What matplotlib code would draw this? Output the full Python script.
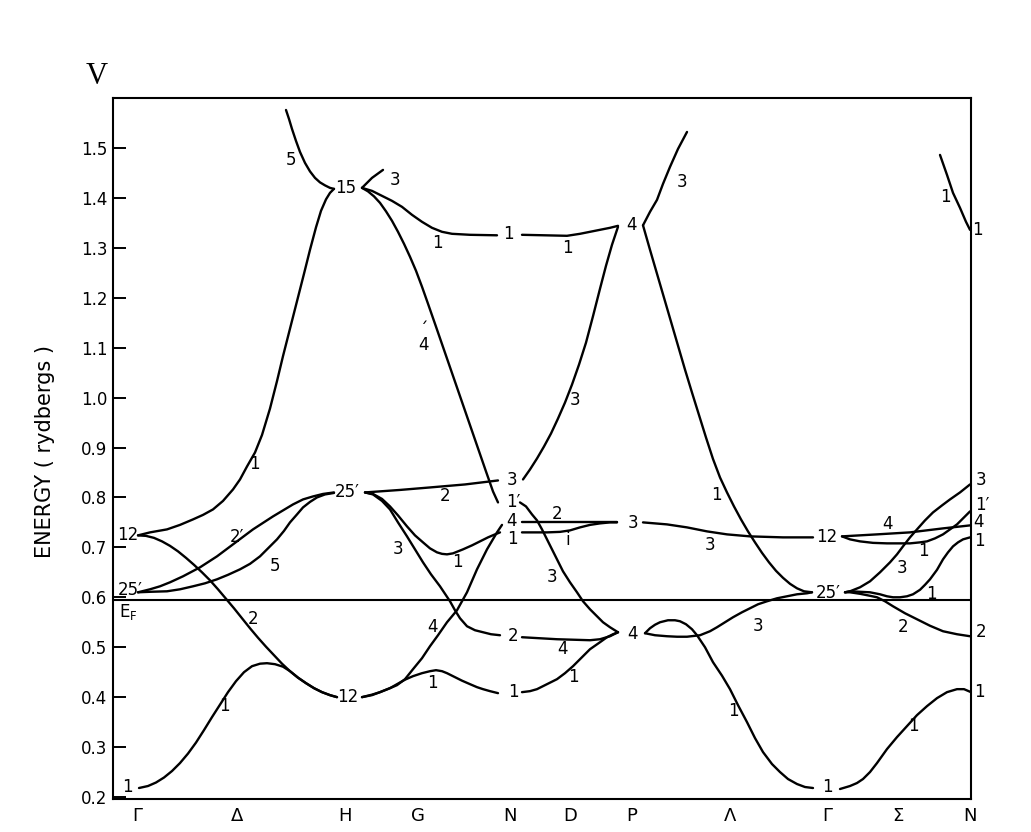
import matplotlib
matplotlib.use("Agg")
import matplotlib.pyplot as plt
import numpy as np

# ---------------- axis data ----------------
sym_labels = ["Γ", "Δ", "H", "G", "N", "D", "P", "Λ", "Γ", "Σ", "N"]
sym_pos = [137, 237, 345, 418, 510, 570, 632, 730, 827, 898, 970]
y_ticks = [0.2, 0.3, 0.4, 0.5, 0.6, 0.7, 0.8, 0.9, 1.0, 1.1, 1.2, 1.3, 1.4, 1.5]
fermi_energy = 0.594

# ---------------- bands: Γ – Δ – H ----------------
d1_low_k = [139, 148, 156, 164, 172, 180, 188, 196, 204, 212, 220, 228, 236, 244, 252, 260, 267, 275, 283, 290, 298, 306, 314, 322, 330, 337]
d1_low_e = [0.218, 0.222, 0.229, 0.239, 0.252, 0.268, 0.287, 0.309, 0.334, 0.36, 0.385, 0.41, 0.432, 0.45, 0.462, 0.467, 0.468, 0.466, 0.461, 0.452, 0.439, 0.428, 0.418, 0.41, 0.404, 0.40]
d2_k = [138, 146, 154, 162, 170, 178, 186, 194, 202, 210, 218, 226, 234, 242, 250, 258, 266, 274, 282, 290, 298, 306, 314, 322, 330, 337]
d2_e = [0.724, 0.723, 0.719, 0.712, 0.703, 0.692, 0.679, 0.665, 0.65, 0.634, 0.616, 0.597, 0.578, 0.558, 0.538, 0.519, 0.501, 0.484, 0.467, 0.452, 0.439, 0.428, 0.418, 0.41, 0.404, 0.40]
d1_up_k = [138, 150, 167, 180, 193, 203, 213, 223, 233, 240, 247, 255, 262, 270, 277, 283, 290, 297, 304, 310, 316, 321, 326, 330, 334]
d1_up_e = [0.724, 0.73, 0.736, 0.745, 0.756, 0.765, 0.776, 0.793, 0.816, 0.836, 0.862, 0.89, 0.925, 0.978, 1.033, 1.083, 1.138, 1.193, 1.248, 1.296, 1.341, 1.374, 1.397, 1.41, 1.418]
d5_top_k = [286, 289, 292, 296, 300, 305, 310, 315, 320, 325, 330, 334]
d5_top_e = [1.576, 1.558, 1.538, 1.514, 1.492, 1.47, 1.453, 1.44, 1.431, 1.425, 1.42, 1.418]
d2p_k = [138, 150, 160, 170, 183, 200, 217, 233, 253, 273, 293, 303, 313, 323, 334]
d2p_e = [0.61, 0.616, 0.622, 0.63, 0.642, 0.66, 0.682, 0.706, 0.736, 0.762, 0.786, 0.796, 0.802, 0.807, 0.81]
d5_k = [138, 150, 167, 180, 193, 205, 217, 228, 240, 250, 260, 268, 277, 284, 290, 297, 303, 310, 317, 325, 334]
d5_e = [0.61, 0.611, 0.612, 0.616, 0.622, 0.628, 0.636, 0.645, 0.656, 0.667, 0.682, 0.698, 0.716, 0.733, 0.75, 0.766, 0.78, 0.791, 0.8, 0.806, 0.809]

# ---------------- bands: H – G – N ----------------
g3_top_k = [362, 372, 383]
g3_top_e = [1.42, 1.44, 1.456]
g1_top_k = [362, 372, 382, 392, 402, 412, 422, 432, 442, 452, 470, 497]
g1_top_e = [1.42, 1.414, 1.404, 1.394, 1.382, 1.366, 1.352, 1.34, 1.332, 1.328, 1.326, 1.325]
g4p_k = [362, 368, 374, 380, 386, 392, 398, 404, 410, 416, 422, 428, 436, 446, 456, 466, 476, 486, 493, 498]
g4p_e = [1.42, 1.413, 1.403, 1.39, 1.373, 1.354, 1.332, 1.308, 1.282, 1.254, 1.222, 1.188, 1.142, 1.084, 1.026, 0.968, 0.91, 0.852, 0.812, 0.79]
g2_k = [365, 400, 430, 465, 498]
g2_e = [0.81, 0.815, 0.82, 0.826, 0.834]
g3_k = [365, 373, 382, 390, 398, 407, 415, 423, 431, 440, 445, 450, 455, 460, 467, 475, 483, 491, 500]
g3_e = [0.81, 0.806, 0.793, 0.776, 0.75, 0.722, 0.696, 0.67, 0.646, 0.622, 0.607, 0.592, 0.574, 0.558, 0.542, 0.534, 0.53, 0.526, 0.524]
g1_mid_k = [365, 373, 382, 390, 398, 407, 415, 423, 430, 437, 442, 447, 453, 463, 472, 480, 488, 495, 500]
g1_mid_e = [0.81, 0.807, 0.797, 0.782, 0.764, 0.742, 0.724, 0.71, 0.698, 0.69, 0.687, 0.686, 0.688, 0.696, 0.704, 0.712, 0.72, 0.726, 0.73]
g4_k = [362, 372, 380, 390, 397, 405, 413, 422, 430, 438, 447, 457, 467, 477, 487, 497, 502]
g4_e = [0.40, 0.404, 0.41, 0.418, 0.424, 0.436, 0.456, 0.478, 0.502, 0.524, 0.55, 0.574, 0.61, 0.656, 0.696, 0.73, 0.745]
g1_low_k = [362, 372, 380, 390, 397, 405, 413, 422, 430, 436, 442, 447, 453, 462, 470, 477, 483, 490, 498]
g1_low_e = [0.40, 0.405, 0.41, 0.418, 0.426, 0.435, 0.442, 0.448, 0.452, 0.454, 0.452, 0.448, 0.442, 0.433, 0.426, 0.42, 0.416, 0.412, 0.408]

# ---------------- bands: N – D – P ----------------
dd2_k = [522, 557, 590, 617]
dd2_e = [0.75, 0.75, 0.75, 0.75]
dd1_k = [522, 547, 560, 570, 580, 590, 600, 610, 617]
dd1_e = [0.73, 0.73, 0.731, 0.734, 0.74, 0.745, 0.748, 0.75, 0.75]
dd3_k = [520, 526, 532, 537, 542, 547, 557, 563, 570, 577, 583, 590, 597, 603, 610, 618]
dd3_e = [0.79, 0.782, 0.766, 0.754, 0.736, 0.716, 0.676, 0.652, 0.63, 0.61, 0.592, 0.576, 0.562, 0.55, 0.54, 0.53]
dd4_k = [522, 557, 590, 600, 610, 618]
dd4_e = [0.52, 0.516, 0.514, 0.516, 0.522, 0.53]
dd1_low_k = [522, 530, 537, 545, 557, 565, 573, 582, 590, 600, 607, 613, 618]
dd1_low_e = [0.41, 0.412, 0.416, 0.424, 0.436, 0.448, 0.462, 0.48, 0.496, 0.51, 0.52, 0.526, 0.53]
dd3_up_k = [523, 530, 537, 544, 551, 558, 565, 572, 579, 586, 593, 600, 606, 612, 618]
dd3_up_e = [0.836, 0.856, 0.878, 0.902, 0.928, 0.958, 0.99, 1.026, 1.066, 1.11, 1.163, 1.218, 1.264, 1.306, 1.342]
dd1_up_k = [522, 545, 567, 580, 590, 600, 610, 618]
dd1_up_e = [1.326, 1.325, 1.324, 1.328, 1.332, 1.336, 1.34, 1.344]

# ---------------- bands: P – Λ – Γ ----------------
l3_top_k = [643, 650, 657, 663, 670, 678, 687]
l3_top_e = [1.345, 1.372, 1.396, 1.428, 1.462, 1.498, 1.532]
l1_up_k = [643, 650, 657, 664, 671, 678, 685, 692, 699, 706, 713, 720, 727, 734, 741, 748, 755, 762, 769, 776, 783, 790, 797, 804, 812]
l1_up_e = [1.345, 1.296, 1.248, 1.2, 1.152, 1.104, 1.056, 1.01, 0.965, 0.92, 0.877, 0.84, 0.81, 0.782, 0.756, 0.732, 0.71, 0.689, 0.67, 0.653, 0.639, 0.627, 0.618, 0.612, 0.61]
l3_mid_k = [643, 667, 687, 707, 727, 750, 783, 813]
l3_mid_e = [0.75, 0.746, 0.74, 0.732, 0.726, 0.722, 0.72, 0.72]
l1_low_k = [645, 650, 655, 660, 668, 675, 680, 686, 692, 697, 705, 713, 722, 730, 738, 747, 755, 763, 772, 780, 788, 797, 805, 813]
l1_low_e = [0.528, 0.538, 0.545, 0.55, 0.554, 0.554, 0.552, 0.546, 0.536, 0.524, 0.5, 0.47, 0.443, 0.416, 0.384, 0.35, 0.318, 0.29, 0.266, 0.25, 0.236, 0.226, 0.22, 0.218]
l3_low_k = [645, 655, 667, 677, 687, 700, 710, 717, 725, 733, 742, 750, 758, 767, 777, 787, 797, 807, 812]
l3_low_e = [0.528, 0.524, 0.522, 0.521, 0.521, 0.524, 0.532, 0.54, 0.55, 0.56, 0.57, 0.578, 0.586, 0.592, 0.598, 0.602, 0.606, 0.608, 0.61]

# ---------------- bands: Γ – Σ – N ----------------
s4_k = [842, 877, 910, 943, 970]
s4_e = [0.722, 0.726, 0.73, 0.738, 0.744]
s1_mid_k = [842, 850, 860, 873, 887, 900, 910, 920, 927, 935, 943, 950, 957, 963, 970]
s1_mid_e = [0.722, 0.716, 0.712, 0.709, 0.708, 0.708, 0.708, 0.71, 0.712, 0.718, 0.726, 0.736, 0.746, 0.758, 0.772]
s3_k = [845, 850, 860, 870, 880, 890, 897, 903, 910, 917, 925, 933, 942, 950, 960, 970]
s3_e = [0.61, 0.612, 0.62, 0.632, 0.65, 0.67, 0.686, 0.702, 0.72, 0.736, 0.754, 0.77, 0.784, 0.796, 0.81, 0.826]
s1_lm_k = [845, 850, 860, 870, 880, 887, 893, 900, 907, 913, 920, 925, 930, 937, 943, 948, 953, 958, 963, 970]
s1_lm_e = [0.61, 0.612, 0.611, 0.61, 0.606, 0.602, 0.6, 0.6, 0.602, 0.606, 0.615, 0.625, 0.636, 0.655, 0.676, 0.69, 0.702, 0.71, 0.716, 0.72]
s2_k = [845, 850, 860, 870, 877, 885, 893, 905, 917, 930, 943, 957, 970]
s2_e = [0.61, 0.61, 0.607, 0.603, 0.6, 0.592, 0.582, 0.568, 0.556, 0.543, 0.532, 0.526, 0.522]
s1_low_k = [840, 850, 857, 863, 870, 877, 887, 897, 907, 917, 927, 937, 947, 957, 964, 971]
s1_low_e = [0.216, 0.222, 0.228, 0.236, 0.25, 0.268, 0.296, 0.32, 0.342, 0.364, 0.382, 0.398, 0.41, 0.416, 0.416, 0.41]
s1_top_k = [940, 947, 953, 960, 966, 970]
s1_top_e = [1.486, 1.446, 1.41, 1.38, 1.352, 1.336]

# ---------------- representation labels (text, k, E) ----------------
point_labels = [
    ("12", 128, 0.724), ("25′", 130, 0.614), ("1", 127, 0.22),
    ("15", 346, 1.42), ("25′", 347, 0.81), ("12", 348, 0.40),
    ("3", 512, 0.834), ("1′", 513, 0.79), ("4", 512, 0.752), ("1", 512, 0.716),
    ("2", 513, 0.522), ("1", 513, 0.41), ("1", 508, 1.328),
    ("4", 632, 1.346), ("3", 633, 0.748), ("4", 633, 0.527),
    ("12", 827, 0.72), ("25′", 828, 0.608), ("1", 827, 0.22),
    ("3", 981, 0.834), ("1′", 982, 0.785), ("4", 979, 0.75), ("1", 979, 0.713),
    ("2", 981, 0.53), ("1", 979, 0.41), ("1", 977, 1.336),
]
band_labels = [
    ("5", 291, 1.476), ("1", 254, 0.866), ("2′", 237, 0.72), ("5", 275, 0.662),
    ("2", 253, 0.556), ("1", 224, 0.382),
    ("3", 395, 1.436), ("1", 437, 1.31), ("2", 445, 0.802),
    ("3", 398, 0.696), ("1", 457, 0.67), ("4", 433, 0.54), ("1", 432, 0.428),
    ("2", 557, 0.766), ("i", 568, 0.714), ("3", 552, 0.64), ("4", 563, 0.496),
    ("1", 573, 0.44), ("3", 575, 0.996), ("1", 567, 1.3),
    ("3", 682, 1.432), ("1", 716, 0.804), ("3", 710, 0.704), ("3", 758, 0.542),
    ("1", 733, 0.372),
    ("4", 888, 0.746), ("1", 923, 0.692), ("3", 902, 0.658), ("1", 931, 0.606),
    ("2", 903, 0.54), ("1", 913, 0.342), ("1", 945, 1.402),
]
accent_label = ("ˊ\n4", 424, 1.12)

bands = [
    (d1_low_k, d1_low_e), (d2_k, d2_e), (d1_up_k, d1_up_e), (d5_top_k, d5_top_e),
    (d2p_k, d2p_e), (d5_k, d5_e),
    (g3_top_k, g3_top_e), (g1_top_k, g1_top_e), (g4p_k, g4p_e), (g2_k, g2_e),
    (g3_k, g3_e), (g1_mid_k, g1_mid_e), (g4_k, g4_e), (g1_low_k, g1_low_e),
    (dd2_k, dd2_e), (dd1_k, dd1_e), (dd3_k, dd3_e), (dd4_k, dd4_e),
    (dd1_low_k, dd1_low_e), (dd3_up_k, dd3_up_e), (dd1_up_k, dd1_up_e),
    (l3_top_k, l3_top_e), (l1_up_k, l1_up_e), (l3_mid_k, l3_mid_e),
    (l1_low_k, l1_low_e), (l3_low_k, l3_low_e),
    (s4_k, s4_e), (s1_mid_k, s1_mid_e), (s3_k, s3_e), (s1_lm_k, s1_lm_e),
    (s2_k, s2_e), (s1_low_k, s1_low_e), (s1_top_k, s1_top_e),
]

# ---------------- drawing ----------------
plt.rcParams["font.family"] = ["DejaVu Sans"]
W, H = 1031, 832
fig = plt.figure(figsize=(W / 100, H / 100), dpi=100)
ax = fig.add_axes([113 / W, 1 - 799 / H, (971 - 113) / W, (799 - 98) / H])
ax.set_xlim(113, 971)
ax.set_ylim(0.196, 1.6)

line_kw = dict(color="black", lw=1.7, solid_capstyle="round", solid_joinstyle="round")
for k, e in bands:
    ax.plot(k, e, **line_kw)

ax.axhline(fermi_energy, color="black", lw=1.5)

for txt, k, e in point_labels + band_labels:
    ax.text(k, e, txt, ha="center", va="center", fontsize=12, clip_on=False)
ax.text(accent_label[1], accent_label[2], accent_label[0], ha="center", va="center",
        fontsize=12, linespacing=0.75)
ax.text(128, 0.571, r"$\mathregular{E_F}$", ha="center", va="center", fontsize=12)

ax.set_yticks(y_ticks)
ax.set_yticklabels([f"{v:.1f}" for v in y_ticks])
ax.tick_params(axis="y", direction="in", length=9, width=1.4, labelsize=12, pad=4)
ax.set_xticks(sym_pos)
ax.set_xticklabels(sym_labels)
ax.tick_params(axis="x", length=0, labelsize=13, pad=6)
for s in ax.spines.values():
    s.set_linewidth(1.5)

fig.text(45 / W, 1 - 452 / H, "ENERGY ( rydbergs )", rotation=90,
         ha="center", va="center", fontsize=15)
fig.text(97 / W, 1 - 77 / H, "V", ha="center", va="center", fontsize=22,
         family="Liberation Serif")

fig.savefig("out.png", dpi=100)
